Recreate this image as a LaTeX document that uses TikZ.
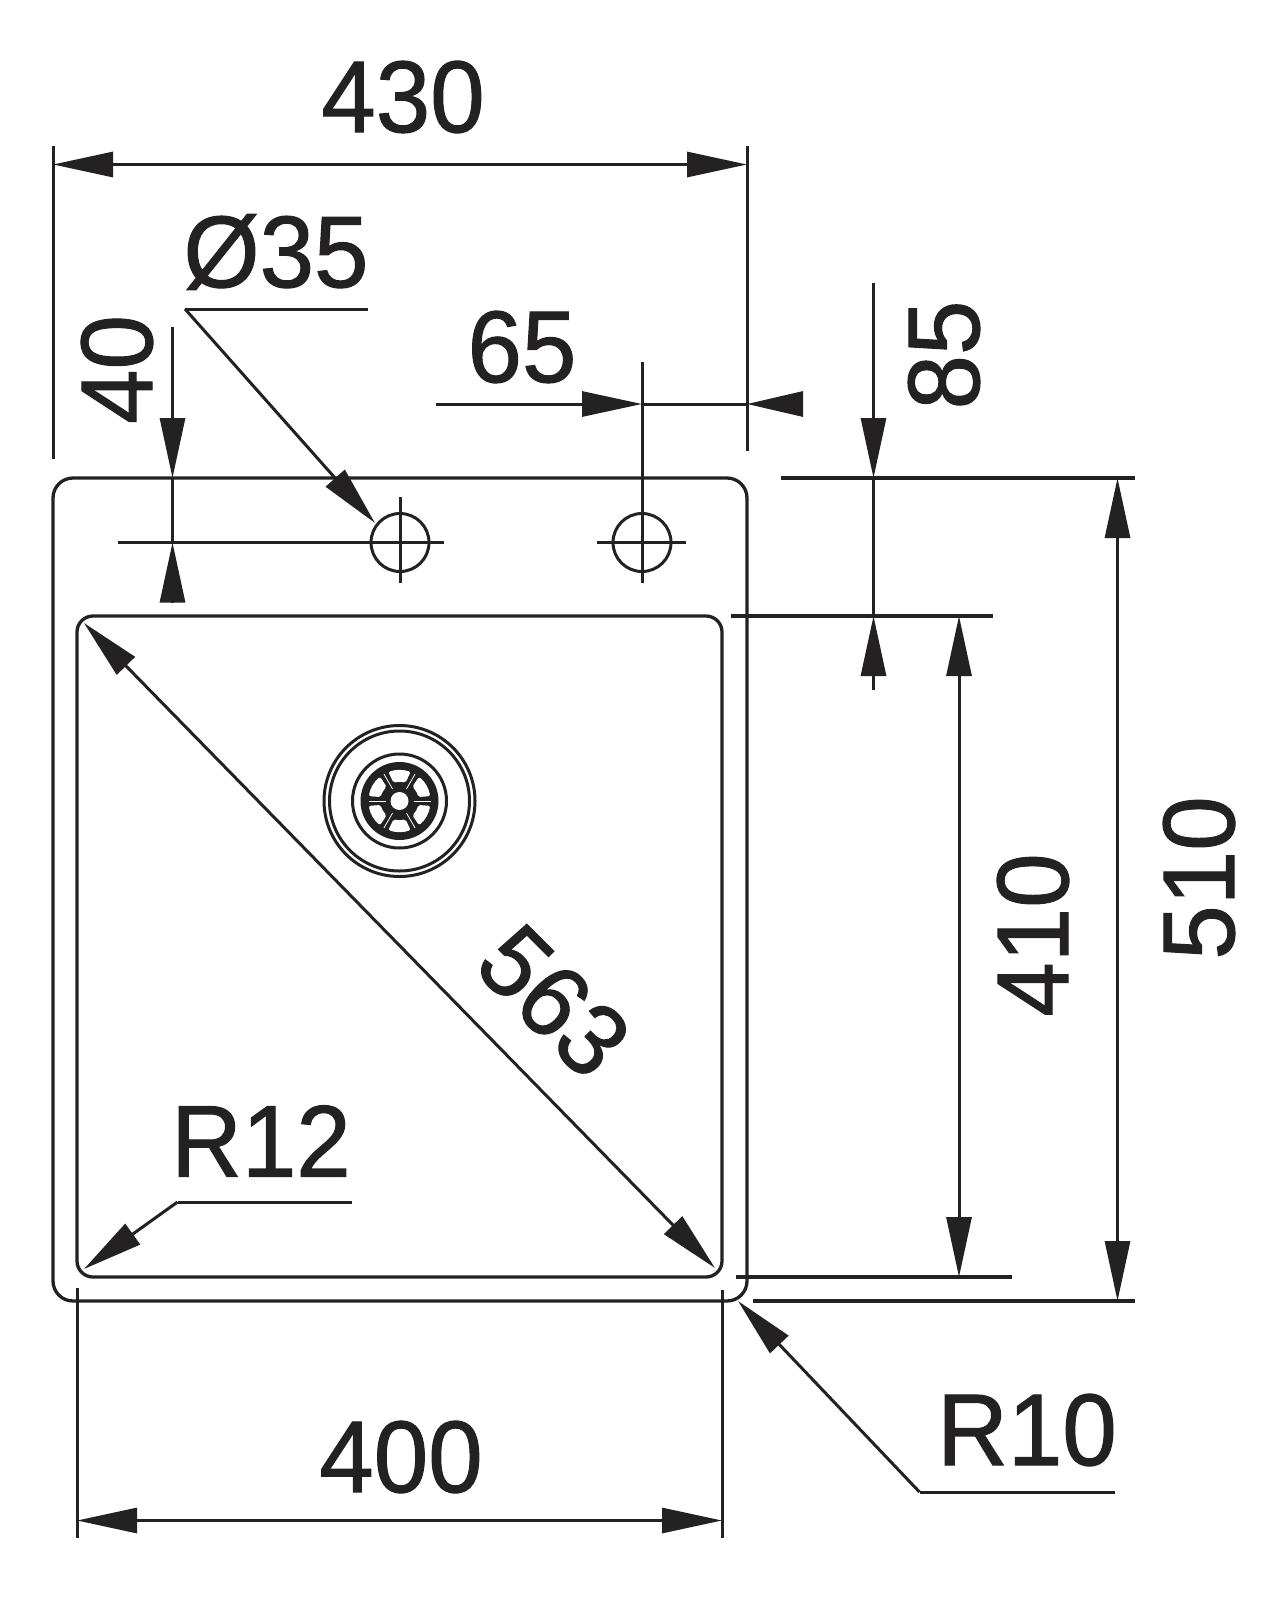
\documentclass[tikz,border=0pt]{standalone}
\usepackage{xcolor}
\usepackage{fontspec}
\setmainfont[FakeStretch=0.96,FakeBold=1]{Liberation Sans}
\usetikzlibrary{arrows.meta}
\definecolor{ink}{RGB}{35,33,34}
\tikzset{
  thinline/.style={ink, line width=3pt},
  bodyline/.style={ink, line width=3.3pt, rounded corners=20pt},
  dimline/.style={thinline, -{Triangle[length=60pt,width=25pt]}},
  dimboth/.style={thinline, {Triangle[length=60pt,width=25pt]}-{Triangle[length=60pt,width=25pt]}},
  dimtext/.style={ink, inner sep=0pt, font=\fontsize{102}{102}\selectfont}
}
\begin{document}
\begin{tikzpicture}[x=1pt,y=-1pt]
    \useasboundingbox (0,0) rectangle (1283,1600);

    % Sink outline
    \draw[bodyline] (53,478) rectangle (747,1301);
    \draw[bodyline, rounded corners=16pt] (77,616) rectangle (722,1277);

    % Tap holes
    \coordinate (holeA) at (400,542.5);
    \coordinate (holeB) at (642,542.5);
    \foreach \h in {holeA,holeB}
        \draw[thinline] (\h) circle (29pt);
    \draw[thinline] (118,542.5) -- (444,542.5);
    \draw[thinline] (400,497) -- (400,583);
    \draw[thinline] (597,542.5) -- (686,542.5);
    \draw[thinline] (642,362) -- (642,583);

    % Drain
    \coordinate (drain) at (399.5,801);
    \draw[thinline] (drain) circle (75.5pt);
    \draw[thinline] (drain) circle (70pt);
    \draw[thinline] (drain) circle (47pt);
    \fill[ink] (drain) circle (39pt);
    \begin{scope}[shift={(drain)}]
        \foreach \a in {30,90,...,330}
            \fill[white, rounded corners=2pt] (\a-18:19pt) arc[start angle=\a-18, end angle=\a+18, radius=19pt]
                -- (\a+21:31pt) arc[start angle=\a+21, end angle=\a-21, radius=31pt] -- cycle;
        \foreach \a in {0,60,...,300}
            \draw[white, line width=0.8pt] (\a:14pt) -- (\a:31pt);
    \end{scope}
    \fill[white] (drain) circle (9pt);

    % Width 430
    \draw[thinline] (53,146) -- (53,459);
    \draw[thinline] (747,146) -- (747,451);
    \draw[dimboth] (53,164.5) -- (747,164.5);
    \node[dimtext] (widthouter) at (403,97) {430};

    % Hole 35
    \node[dimtext] (holedia) at (276,252) {Ø35};
    \draw[thinline] (368,309) -- (185,309);
    \draw[dimline] (185,309) -- (375,523);

    % Hole spacing 65
    \node[dimtext] (holegap) at (522,347) {65};
    \draw[dimline] (436,404) -- (642,404);
    \draw[thinline] (642,404) -- (747,404);
    \draw[dimline, -{Triangle[length=56pt,width=25pt]}] (803,404) -- (747,404);

    % Hole offset 40
    \node[dimtext, rotate=90] (holeoff) at (117,369.5) {40};
    \draw[dimline] (172.5,326.5) -- (172.5,478);
    \draw[thinline] (172.5,478) -- (172.5,542.5);
    \draw[dimline] (172.5,602.5) -- (172.5,542.5);

    % Rim 85
    \node[dimtext, rotate=90] (rim) at (944,355) {85};
    \draw[dimline] (873.5,283) -- (873.5,478);
    \draw[thinline] (873.5,478) -- (873.5,616);
    \draw[dimline] (873.5,690) -- (873.5,616);

    % Right extension lines
    \draw[bodyline] (781,478) -- (1135,478);
    \draw[bodyline] (731,616) -- (993,616);
    \draw[bodyline] (736,1277) -- (1012,1277);
    \draw[bodyline] (753,1301) -- (1135,1301);

    % Height 410 and 510
    \draw[dimboth] (959,616) -- (959,1277);
    \node[dimtext, rotate=90] (heightinner) at (1033,935) {410};
    \draw[dimboth] (1117.5,478) -- (1117.5,1301);
    \node[dimtext, rotate=90] (heightouter) at (1199,878) {510};

    % Diagonal 563
    \draw[dimboth] (84,623) -- (715,1268);
    \node[dimtext, rotate=-45] (diagonal) at (554,1001) {563};

    % Radius 12
    \node[dimtext] (radinner) at (261,1141) {R12};
    \draw[thinline] (352,1202) -- (177.5,1202);
    \draw[dimline] (177.5,1202) -- (84,1269);

    % Radius 10
    \node[dimtext] (radouter) at (1027,1430) {R10};
    \draw[thinline] (1115,1492) -- (919.5,1492);
    \draw[dimline] (919.5,1492) -- (738,1301);

    % Width 400
    \draw[thinline] (77,1288) -- (77,1538);
    \draw[thinline] (722,1290) -- (722,1538);
    \draw[dimboth] (77,1520.5) -- (722,1520.5);
    \node[dimtext] (widthinner) at (401,1457) {400};
\end{tikzpicture}
\end{document}
